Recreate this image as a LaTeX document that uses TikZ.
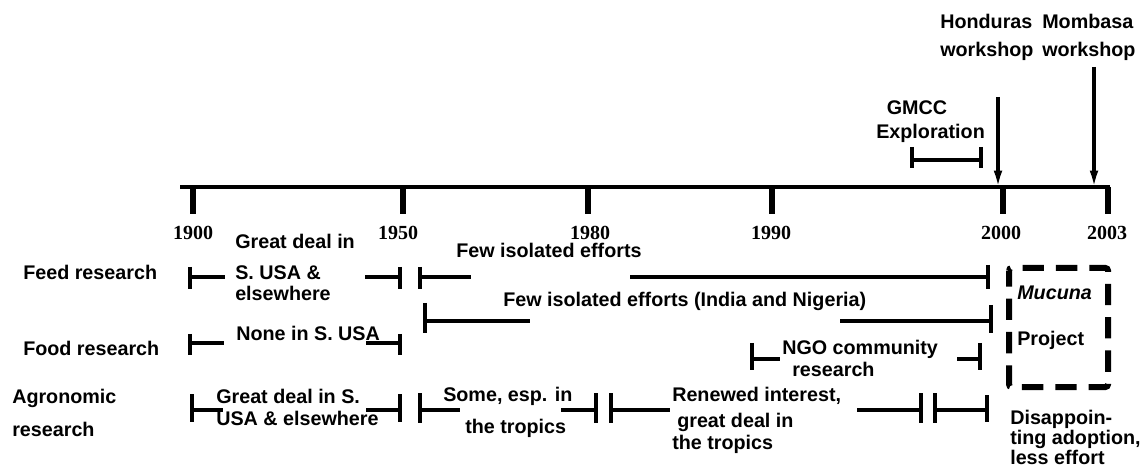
\documentclass[tikz,border=0pt]{standalone}
\usepackage{fontspec}
\setmainfont{Liberation Sans}
\newfontfamily\serifyr{Liberation Serif}
\usetikzlibrary{arrows.meta}
\newcommand\capat[3]{\draw[capline] (#1,#2) -- (#1,#3);}
\begin{document}
\begin{tikzpicture}[x=0.75pt,y=-0.75pt,
 lbl/.style={font=\fontsize{14.8}{17}\selectfont\bfseries, inner sep=0pt, anchor=base west},
 yr/.style={font=\fontsize{15}{17}\selectfont\serifyr\bfseries, inner sep=0pt, anchor=base},
 axisline/.style={line width=3pt},
 tickline/.style={line width=4.5pt},
 barline/.style={line width=3pt},
 capline/.style={line width=3.4pt},
 arrowline/.style={line width=2.4pt,-{Latex[length=13pt,width=6.5pt]}},
 boxline/.style={line width=4.5pt,dash pattern=on 16pt off 9pt,dash phase=4pt}]
\useasboundingbox (0,0) rectangle (1144,473);

% axis
\draw[axisline] (180,187) -- (1110,187);
\foreach \x in {193,403,588,772,1003,1108} \draw[tickline] (\x,187) -- (\x,214);

% years
\node[yr] (y1900) at (193,240) {1900};
\node[yr] (y1950) at (398,240) {1950};
\node[yr] (y1980) at (590,240) {1980};
\node[yr] (y1990) at (771,240) {1990};
\node[yr] (y2000) at (1001,240) {2000};
\node[yr] (y2003) at (1107,240) {2003};

% workshops
\node[lbl] (hond1) at (940,29) {Honduras};
\node[lbl] (hond2) at (940,57) {workshop};
\node[lbl] (momb1) at (1042,29) {Mombasa};
\node[lbl] (momb2) at (1042,57) {workshop};
\coordinate (hondtop) at (998,97);
\coordinate (hondend) at (998,188);
\coordinate (mombtop) at (1094,67);
\coordinate (mombend) at (1094,188);
\draw[arrowline] (hondtop) -- (hondend);
\draw[arrowline] (mombtop) -- (mombend);

% GMCC
\node[lbl,anchor=base] (gmcc1) at (917,115) {GMCC};
\node[lbl] (gmcc2) at (876,139) {Exploration};
\draw[barline] (912,160) -- (981,160);
\capat{912}{147}{168}
\capat{981}{147}{168}

% row labels
\node[lbl] (feed) at (23,280) {Feed research};
\node[lbl] (food) at (23,355) {Food research};
\node[lbl] (agro1) at (12,403) {Agronomic};
\node[lbl] (agro2) at (12,436) {research};

% Feed research row
\node[lbl] (f1a) at (235,249) {Great deal in};
\node[lbl] (f1b) at (235,280) {S. USA \&};
\node[lbl] (f1c) at (235,301) {elsewhere};
\capat{190}{267}{289}
\draw[barline] (190,277) -- (225,277);
\draw[barline] (365,277) -- (400,277);
\capat{400}{267}{289}
\node[lbl] (f2) at (456,258) {Few isolated efforts};
\capat{420}{267}{289}
\draw[barline] (420,277) -- (471,277);
\draw[barline] (630,277) -- (988,277);
\capat{988}{265}{289}

\node[lbl] (f3) at (503,307) {Few isolated efforts (India and Nigeria)};
\capat{425}{303}{333}
\draw[barline] (425,321) -- (530,321);
\draw[barline] (840,321) -- (991,321);
\capat{991}{305}{333}

% Food research row
\node[lbl] (fo1) at (236,340) {None in S. USA};
\capat{190}{334}{355}
\draw[barline] (190,343) -- (224,343);
\draw[barline] (366,343) -- (400,343);
\capat{400}{334}{355}

% NGO
\node[lbl] (ngo1) at (782,354) {NGO community};
\node[lbl] (ngo2) at (792,376) {research};
\capat{752}{343}{370}
\draw[barline] (752,359) -- (780,359);
\draw[barline] (957,359) -- (980,359);
\capat{980}{343}{370}

% Agronomic row
\node[lbl] (a1a) at (216,403) {Great deal in S.};
\node[lbl] (a1b) at (216,425) {USA \& elsewhere};
\capat{192}{394}{422}
\draw[barline] (192,410) -- (223,410);
\draw[barline] (366,410) -- (400,410);
\capat{400}{394}{422}

\node[lbl] (a2a) at (443,402) {Some, esp. in};
\node[lbl] (a2b) at (465,433) {the tropics};
\capat{420}{393}{423}
\draw[barline] (420,410) -- (460,410);
\draw[barline] (561,410) -- (596,410);
\capat{596}{393}{423}

\node[lbl] (a3a) at (672,402) {Renewed interest,};
\node[lbl] (a3b) at (677,427) {great deal in};
\node[lbl] (a3c) at (672,449) {the tropics};
\capat{611}{393}{423}
\draw[barline] (611,410) -- (670,410);
\draw[barline] (857,410) -- (921,410);
\capat{921}{393}{423}
\capat{935}{393}{423}
\draw[barline] (935,410) -- (987,410);
\capat{987}{395}{422}

% Mucuna project box
\draw[boxline,rounded corners=2pt] (1009,268) rectangle (1108,387);
\node[lbl,font=\fontsize{14.8}{17}\selectfont\bfseries\itshape] (muc) at (1017,300) {Mucuna};
\node[lbl] (proj) at (1017,345) {Project};

\node[lbl] (dis1) at (1010,424) {Disappoin-};
\node[lbl] (dis2) at (1010,444) {ting adoption,};
\node[lbl] (dis3) at (1010,464) {less effort};
\end{tikzpicture}
\end{document}
